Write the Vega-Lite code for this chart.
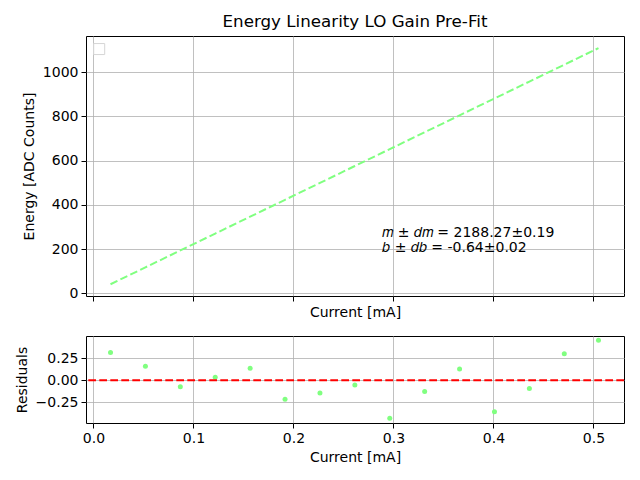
{
  "$schema": "https://vega.github.io/schema/vega-lite/v6.json",
  "padding": {"left": 14, "top": 13, "right": 5, "bottom": 5},
  "bounds": "flush",
  "spacing": 40,
  "config": {
    "font": "DejaVu Sans",
    "view": {"stroke": "black", "strokeWidth": 1},
    "axis": {
      "labelFont": "DejaVu Sans", "labelFontSize": 14, "labelColor": "black",
      "titleFont": "DejaVu Sans", "titleFontSize": 14, "titleFontWeight": "normal", "titleColor": "black",
      "tickColor": "black", "tickSize": 5, "labelPadding": 3,
      "domain": false, "gridColor": "#b0b0b0", "gridWidth": 0.8, "gridOpacity": 1
    }
  },
  "datasets": {
    "pts": [
      {"current": 0.0171, "energy": 41.5, "residual": 0.313},
      {"current": 0.0520, "energy": 117.9, "residual": 0.157},
      {"current": 0.0869, "energy": 194.2, "residual": -0.075},
      {"current": 0.1218, "energy": 270.6, "residual": 0.034},
      {"current": 0.1567, "energy": 347.0, "residual": 0.134},
      {"current": 0.1916, "energy": 423.3, "residual": -0.216},
      {"current": 0.2265, "energy": 499.7, "residual": -0.146},
      {"current": 0.2614, "energy": 576.1, "residual": -0.056},
      {"current": 0.2963, "energy": 652.5, "residual": -0.429},
      {"current": 0.3312, "energy": 728.8, "residual": -0.127},
      {"current": 0.3661, "energy": 805.2, "residual": 0.127},
      {"current": 0.4010, "energy": 881.6, "residual": -0.358},
      {"current": 0.4359, "energy": 957.9, "residual": -0.093},
      {"current": 0.4708, "energy": 1034.3, "residual": 0.299},
      {"current": 0.5050, "energy": 1109.2, "residual": 0.451}
    ],
    "notes": [
      {"current": 0.2888, "energy": 256, "label": "𝑚 ± 𝑑𝑚 = 2188.27±0.19"},
      {"current": 0.2888, "energy": 188, "label": "𝑏 ± 𝑑𝑏 = -0.64±0.02"}
    ],
    "legendbox": [
      {"current": 0.0058, "energy": 1105}
    ]
  },
  "vconcat": [
    {
      "width": 538,
      "height": 260,
      "title": {"text": "Energy Linearity LO Gain Pre-Fit", "fontSize": 16.7, "fontWeight": "normal", "font": "DejaVu Sans", "color": "black", "anchor": "middle", "frame": "group", "offset": 5},
      "layer": [
        {
          "data": {"name": "pts"},
          "mark": {"type": "line", "color": "#80ff80", "strokeWidth": 2, "strokeDash": [7.7, 3.3]},
          "encoding": {
            "x": {"field": "current", "type": "quantitative", "scale": {"domain": [-0.0074, 0.5305], "nice": false, "zero": false},
              "axis": {"values": [0, 0.1, 0.2, 0.3, 0.4, 0.5], "labels": false, "title": "Current [mA]", "titlePadding": 4}},
            "y": {"field": "energy", "type": "quantitative", "scale": {"domain": [-11.7, 1164], "nice": false, "zero": false},
              "axis": {"values": [0, 200, 400, 600, 800, 1000], "format": "d", "title": "Energy [ADC Counts]", "titlePadding": 6}}
          }
        },
        {
          "data": {"name": "notes"},
          "mark": {"type": "text", "align": "left", "baseline": "alphabetic", "fontSize": 14, "font": "DejaVu Sans", "color": "black"},
          "encoding": {
            "x": {"field": "current", "type": "quantitative"},
            "y": {"field": "energy", "type": "quantitative"},
            "text": {"field": "label"}
          }
        },
        {
          "data": {"name": "legendbox"},
          "mark": {"type": "square", "size": 121, "filled": true, "fill": "white", "stroke": "#d6d6d6", "strokeWidth": 1, "opacity": 1},
          "encoding": {
            "x": {"field": "current", "type": "quantitative"},
            "y": {"field": "energy", "type": "quantitative"}
          }
        }
      ]
    },
    {
      "width": 538,
      "height": 87,
      "layer": [
        {
          "data": {"name": "pts"},
          "mark": {"type": "circle", "color": "#80ff80", "size": 25, "opacity": 1},
          "encoding": {
            "x": {"field": "current", "type": "quantitative", "scale": {"domain": [-0.0074, 0.5305], "nice": false, "zero": false},
              "axis": {"values": [0, 0.1, 0.2, 0.3, 0.4, 0.5], "format": ".1f", "title": "Current [mA]", "titlePadding": 5}},
            "y": {"field": "residual", "type": "quantitative", "scale": {"domain": [-0.484, 0.499], "nice": false, "zero": false},
              "axis": {"values": [-0.25, 0, 0.25], "format": ".2f", "title": "Residuals", "titlePadding": 6}}
          }
        },
        {
          "data": {"values": [{"zero": 0}]},
          "mark": {"type": "rule", "color": "red", "strokeWidth": 2, "strokeDash": [7.7, 3.3]},
          "encoding": {
            "y": {"field": "zero", "type": "quantitative"}
          }
        }
      ]
    }
  ]
}
